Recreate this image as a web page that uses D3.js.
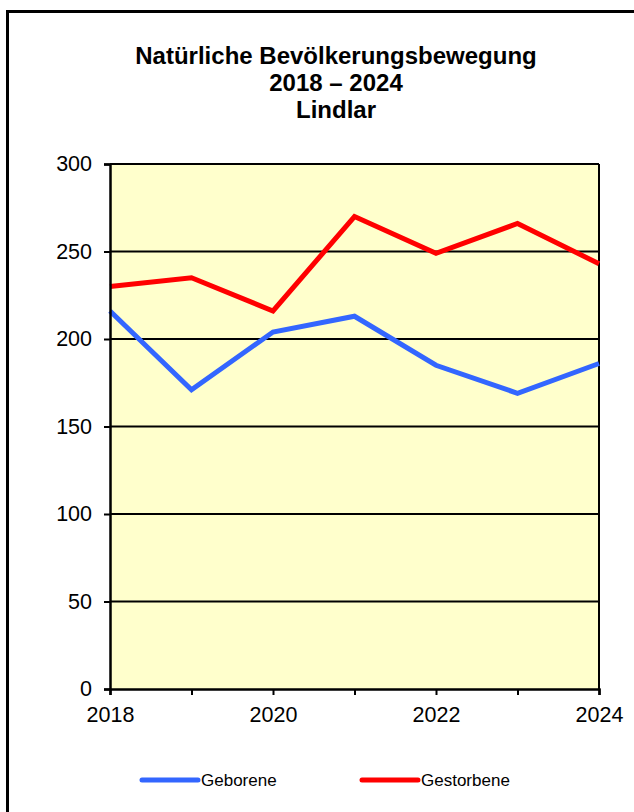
<!DOCTYPE html>
<html>
<head>
<meta charset="utf-8">
<script src="https://cdn.jsdelivr.net/npm/d3@7"></script>
<style>
  html, body { margin: 0; padding: 0; background: #ffffff; }
  svg { display: block; font-family: "Liberation Sans", Arial, sans-serif; }
</style>
</head>
<body>
<svg id="chart" width="634" height="812"></svg>
<script>
// Natürliche Bevölkerungsbewegung, Lindlar 2018–2024
const years = [2018, 2019, 2020, 2021, 2022, 2023, 2024];
const geborene = [216, 171, 204, 213, 185, 169, 186];
const gestorbene = [230, 235, 216, 270, 249, 266, 243];
const yTicks = [0, 50, 100, 150, 200, 250, 300];
const xLabelYears = [2018, 2020, 2022, 2024];
const titleLines = ["Natürliche Bevölkerungsbewegung", "2018 – 2024", "Lindlar"];
const seriesNames = ["Geborene", "Gestorbene"];
const seriesColors = ["#3366ff", "#ff0000"];

const svg = d3.select("#chart");

// outer chart frame (runs past the right and bottom edges)
svg.append("rect")
  .attr("x", 7.5).attr("y", 11.5)
  .attr("width", 700).attr("height", 900)
  .attr("fill", "#ffffff")
  .attr("stroke", "#000000")
  .attr("stroke-width", 3);

// title
const title = svg.append("text")
  .attr("text-anchor", "middle")
  .attr("font-weight", "bold")
  .attr("font-size", 24)
  .attr("fill", "#000");
titleLines.forEach((t, i) => {
  title.append("tspan").attr("x", 336).attr("y", 64 + i * 27).text(t);
});

const plot = { left: 110, right: 599, top: 164, bottom: 689 };

const x = d3.scaleLinear().domain([2018, 2024]).range([plot.left, plot.right]);
const y = d3.scaleLinear().domain([0, 300]).range([plot.bottom, plot.top]);

// plot background
svg.append("rect")
  .attr("x", plot.left).attr("y", plot.top)
  .attr("width", plot.right - plot.left)
  .attr("height", plot.bottom - plot.top)
  .attr("fill", "#ffffcc");

// horizontal gridlines
svg.append("g")
  .selectAll("line")
  .data(yTicks.filter(v => v > 0))
  .join("line")
  .attr("x1", plot.left).attr("x2", plot.right)
  .attr("y1", d => y(d)).attr("y2", d => y(d))
  .attr("stroke", "#000").attr("stroke-width", 2);

// right border of plot area
svg.append("line")
  .attr("x1", plot.right).attr("x2", plot.right)
  .attr("y1", plot.top).attr("y2", plot.bottom)
  .attr("stroke", "#000").attr("stroke-width", 2);

// series lines
const line = d3.line()
  .x((d, i) => x(years[i]))
  .y(d => y(d));

[geborene, gestorbene].forEach((vals, k) => {
  svg.append("path")
    .datum(vals)
    .attr("d", line)
    .attr("fill", "none")
    .attr("stroke", seriesColors[k])
    .attr("stroke-width", 5)
    .attr("stroke-linejoin", "miter");
});

// y axis
const yAxis = svg.append("g")
  .attr("transform", `translate(${plot.left},0)`)
  .call(d3.axisLeft(y).tickValues(yTicks).tickSize(6).tickPadding(12).tickFormat(d3.format("d")));
yAxis.select(".domain").attr("stroke", "#000").attr("stroke-width", 2.5);
yAxis.selectAll(".tick line").attr("stroke", "#000").attr("stroke-width", 2);
yAxis.selectAll(".tick text")
  .attr("font-size", 21.5)
  .attr("font-family", "Liberation Sans, Arial, sans-serif")
  .attr("fill", "#000");

// x axis
const xAxis = svg.append("g")
  .attr("transform", `translate(0,${plot.bottom})`)
  .call(d3.axisBottom(x).tickValues(years).tickSize(6).tickPadding(12)
    .tickFormat(d => xLabelYears.includes(d) ? String(d) : ""));
xAxis.select(".domain").attr("stroke", "#000").attr("stroke-width", 2.5);
xAxis.selectAll(".tick line").attr("stroke", "#000").attr("stroke-width", 2);
xAxis.selectAll(".tick text")
  .attr("font-size", 21.5)
  .attr("font-family", "Liberation Sans, Arial, sans-serif")
  .attr("fill", "#000");

// legend
const legendX = [142, 362];
const legend = svg.append("g");
seriesNames.forEach((name, k) => {
  legend.append("line")
    .attr("x1", legendX[k]).attr("x2", legendX[k] + 56)
    .attr("y1", 780).attr("y2", 780)
    .attr("stroke", seriesColors[k])
    .attr("stroke-width", 5)
    .attr("stroke-linecap", "round");
  legend.append("text")
    .attr("x", legendX[k] + 59).attr("y", 786)
    .attr("font-size", 17)
    .attr("fill", "#000")
    .text(name);
});
</script>
</body>
</html>
